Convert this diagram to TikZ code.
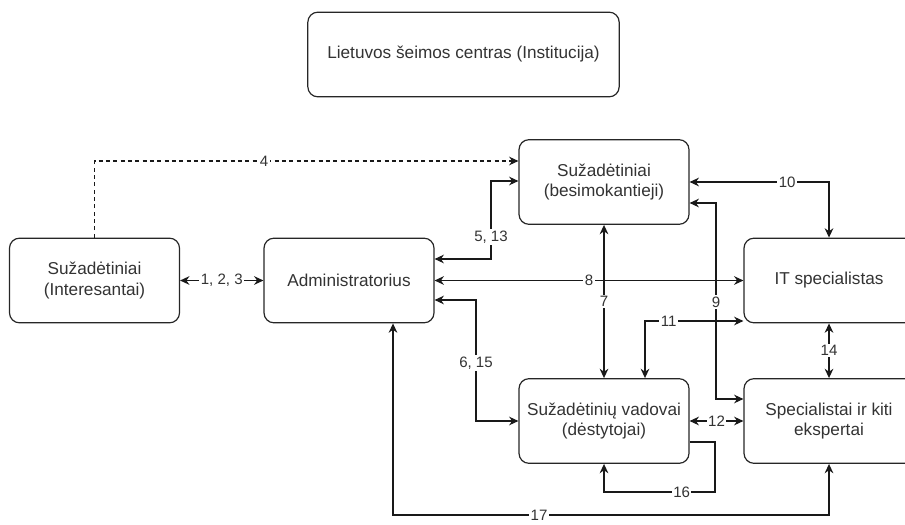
\documentclass[tikz,border=0pt]{standalone}
\usepackage{fontspec}
\setmainfont{Liberation Sans}
\usetikzlibrary{arrows.meta}

\begin{document}
\begin{tikzpicture}[x=0.75pt,y=0.75pt,yscale=-1,xscale=1,
	>={Stealth[length=7pt,width=6.5pt]},
	box/.style={draw=black!85, line width=0.9pt, rounded corners=7.5pt, minimum width=127.5pt, minimum height=63.5pt, align=center, text=black!80, font=\fontsize{12.9}{15.5}\selectfont},
	lbl/.style={fill=white, inner sep=1pt, text=black!80, font=\fontsize{11.3}{13}\selectfont},
	link/.style={draw=black!90, line width=0.9pt}]
	\useasboundingbox (0,0) rectangle (905,524);
	% blocks
	\node[box, minimum width=233.5pt] (inst) at (463.5,54.5) {Lietuvos šeimos centras (Institucija)};
	\node[box] (inter) at (94.5,280.5) {Sužadėtiniai\\(Interesantai)};
	\node[box] (admin) at (349,280.5) {Administratorius};
	\node[box] (besim) at (604,182) {Sužadėtiniai\\(besimokantieji)};
	\node[box] (itsp) at (829,280.5) {IT specialistas};
	\node[box] (vad) at (604,421) {Sužadėtinių vadovai\\(dėstytojai)};
	\node[box] (spec) at (829,421) {Specialistai ir kiti\\ekspertai};
	% connections
	\draw[link,<->] (inter) -- node[lbl]{1, 2, 3} (admin);
	\draw[link,->,dash pattern=on 3pt off 2.5pt] (inter.north) |- node[lbl,pos=0.7]{4} (besim.west |- 0,161);
	\draw[link,<->] (admin.east |- 0,259) -| (491,237) node[lbl]{5, 13} |- (besim.west |- 0,181);
	\draw[link,<->] (admin.east |- 0,300) -| (476,363) node[lbl]{6, 15} |- (vad.west);
	\draw[link,<->] (besim) -- node[lbl]{7} (vad);
	\draw[link,<->] (admin) -- node[lbl]{8} (itsp);
	\draw[link,<->] (besim.east |- 0,203) -| (716,302) node[lbl]{9} |- (spec.west |- 0,399);
	\draw[link,<->] (besim.east) -| node[lbl,pos=0.35]{10} (itsp.north);
	\draw[link,<->] (vad.north -| 645,0) |- node[lbl,pos=0.62]{11} (itsp.west |- 0,321);
	\draw[link,<->] (vad) -- node[lbl]{12} (spec);
	\draw[link,<->] (itsp) -- node[lbl]{14} (spec);
	\draw[link,->] (vad.east |- 0,442) -| (715,492) -| node[lbl,pos=0.15]{16} (vad.south);
	\draw[link,<->] (admin.south -| 393,0) |- (539,515) node[lbl]{17} -| (spec.south);
\end{tikzpicture}
\end{document}
